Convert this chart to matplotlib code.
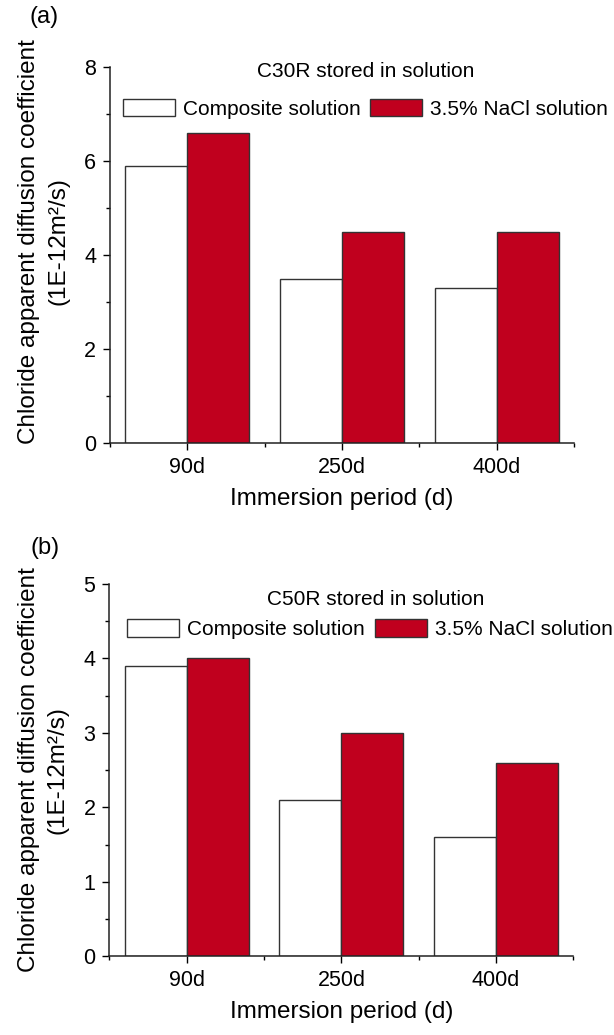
import numpy as np
import matplotlib.pyplot as plt
from matplotlib.ticker import MultipleLocator

plt.rcParams['font.family'] = ['Liberation Sans', 'DejaVu Sans']

# Data
periods = ['90d', '250d', '400d']
c30r_composite = [5.9, 3.5, 3.3]
c30r_nacl = [6.6, 4.5, 4.5]
c50r_composite = [3.9, 2.1, 1.6]
c50r_nacl = [4.0, 3.0, 2.6]
series_names = ['Composite solution', '3.5% NaCl solution']
panel_titles = ['C30R stored in solution', 'C50R stored in solution']
panel_tags = ['(a)', '(b)']

red = '#C0001E'
edge = '#333333'
width = 0.4

fig = plt.figure(figsize=(6.14, 10.35), dpi=100)
ax_a = fig.add_axes([0.179, 0.572, 0.756, 0.363])
ax_b = fig.add_axes([0.178, 0.076, 0.756, 0.360])


def draw_panel(ax, comp, nacl, title, ymax, major, title_xy, leg_xy, label_y):
    x = np.arange(len(periods))
    b1 = ax.bar(x - width / 2, comp, width, color='white', edgecolor=edge,
                linewidth=1.0, label=series_names[0])
    b2 = ax.bar(x + width / 2, nacl, width, color=red, edgecolor=edge,
                linewidth=1.0, label=series_names[1])
    ax.set_xlim(-0.5, 2.5)
    ax.set_ylim(0, ymax)
    ax.set_xticks(x)
    ax.set_xticklabels(periods)
    ax.set_xticks([-0.5, 0.5, 1.5, 2.5], minor=True)
    ax.yaxis.set_major_locator(MultipleLocator(major))
    ax.yaxis.set_minor_locator(MultipleLocator(major / 2))
    for s in ['top', 'right']:
        ax.spines[s].set_visible(False)
    for s in ['left', 'bottom']:
        ax.spines[s].set_linewidth(1.1)
        ax.spines[s].set_color('#222222')
    ax.tick_params(which='major', direction='out', length=5, width=1.0,
                   labelsize=15.5, pad=5)
    ax.tick_params(which='minor', direction='out', length=3, width=1.0)
    ax.set_xlabel('Immersion period (d)', fontsize=17.5, labelpad=7)
    ax.set_ylabel('Chloride apparent diffusion coefficient\n(1E-12m²/s)',
                  fontsize=17.5, linespacing=1.4)
    ax.yaxis.set_label_coords(-0.088, label_y)
    ax.text(title_xy[0], title_xy[1], title, transform=ax.transAxes,
            ha='center', va='center', fontsize=15)
    ax.legend(handles=[b1, b2], loc='center left', bbox_to_anchor=leg_xy,
              ncol=2, frameon=False, fontsize=15, handlelength=2.5,
              handleheight=0.95, handletextpad=0.38, columnspacing=0.45,
              borderpad=0, borderaxespad=0)


draw_panel(ax_a, c30r_composite, c30r_nacl, panel_titles[0], 8, 2,
           (0.55, 0.99), (0.028, 0.89), 0.537)
draw_panel(ax_b, c50r_composite, c50r_nacl, panel_titles[1], 5, 1,
           (0.573, 0.957), (0.039, 0.879), 0.5)

fig.text(44 / 614, 1 - 17 / 1035, panel_tags[0], ha='center', va='center', fontsize=17)
fig.text(45 / 614, 1 - 548 / 1035, panel_tags[1], ha='center', va='center', fontsize=17)

fig.savefig('out.png', dpi=100)
